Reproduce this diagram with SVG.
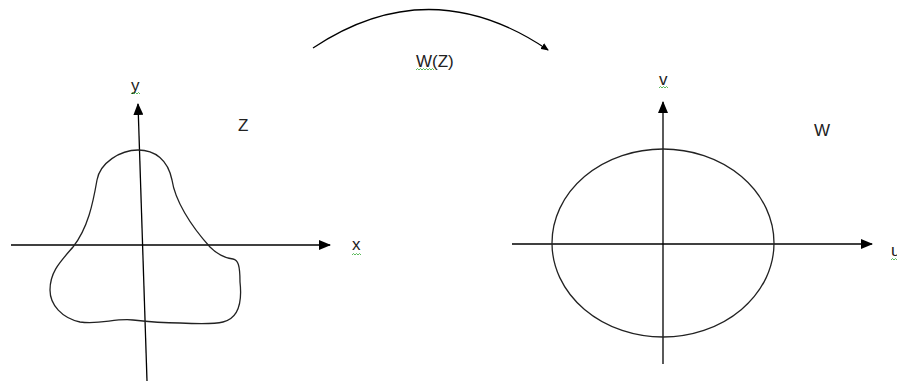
<svg xmlns="http://www.w3.org/2000/svg" width="897" height="383" viewBox="0 0 897 383">
<defs>
<marker id="ah" markerWidth="12" markerHeight="10" refX="11" refY="5" orient="auto" markerUnits="userSpaceOnUse">
<path d="M0,0 L12,5 L0,10 Z" fill="#000"/>
</marker>
<marker id="ahs" markerWidth="8" markerHeight="7" refX="7" refY="3.5" orient="auto" markerUnits="userSpaceOnUse">
<path d="M0,0 L8,3.5 L0,7 Z" fill="#000"/>
</marker>
</defs>
<style>
.ax{stroke:#000;stroke-width:1.3;fill:none}
.cv{stroke:#222;stroke-width:1.3;fill:none}
.t{font-family:"Liberation Sans",Arial,sans-serif;font-size:17px;fill:#222}
.sq{stroke:#3a3;stroke-width:0.8;fill:none}
</style>
<rect width="897" height="383" fill="#fff"/>
<g id="connectors">
<path id="map-arc" class="ax" d="M313,48 Q430,-30 548,50" marker-end="url(#ahs)"/>
</g>
<g id="z-plane">
<line class="ax" x1="11" y1="245" x2="330" y2="245" marker-end="url(#ah)"/>
<line class="ax" x1="147" y1="381" x2="138" y2="104" marker-end="url(#ah)"/>
<path class="cv" d="M138,150 C120,150 100,163 97,180 C93,203 88,228 73,247 C60,262 50,272 50,290 C50,305 62,318 80,322 C100,325 115,318 133,320 C150,322 160,323 180,323 C200,324 215,324 223,322 C240,318 242,300 240,282 C240,265 238,260 233,259 C224,258 215,252 210,247 C190,225 175,200 172,180 C168,160 155,150 138,150 Z"/>
</g>
<g id="w-plane">
<line class="ax" x1="512" y1="244" x2="872" y2="244" marker-end="url(#ah)"/>
<line class="ax" x1="663" y1="364" x2="663" y2="102" marker-end="url(#ah)"/>
<ellipse class="cv" cx="663" cy="243" rx="111" ry="94"/>
</g>
<g id="labels">
<text class="t" x="131" y="91">y</text>
<path class="sq" d="M131,94 l1.5,-1.5 l1.5,1.5 l1.5,-1.5 l1.5,1.5 l1.5,-1.5 l1.5,1.5"/>
<text class="t" x="238" y="131">Z</text>
<text class="t" x="352" y="250">x</text>
<path class="sq" d="M352,255 l1.5,-1.5 l1.5,1.5 l1.5,-1.5 l1.5,1.5 l1.5,-1.5 l1.5,1.5"/>
<text class="t" x="416" y="67">W(Z)</text>
<path class="sq" d="M416,70 l1.5,-1.5 l1.5,1.5 l1.5,-1.5 l1.5,1.5 l1.5,-1.5 l1.5,1.5 l1.5,-1.5 l1.5,1.5 l1.5,-1.5 l1.5,1.5 l1.5,-1.5 l1.5,1.5"/>
<text class="t" x="659" y="85">v</text>
<path class="sq" d="M659,88 l1.5,-1.5 l1.5,1.5 l1.5,-1.5 l1.5,1.5 l1.5,-1.5 l1.5,1.5"/>
<text class="t" x="814" y="136">W</text>
<text class="t" x="891" y="256">u</text>
<path class="sq" d="M891,260 l1.5,-1.5 l1.5,1.5 l1.5,-1.5 l1.5,1.5"/>
</g>
</svg>
